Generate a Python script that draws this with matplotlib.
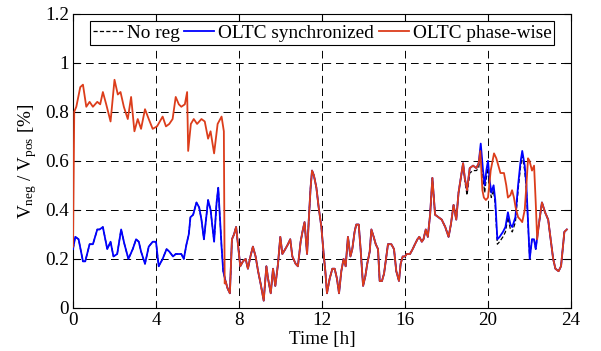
import matplotlib
matplotlib.use("Agg")
import matplotlib.pyplot as plt
import numpy as np

# ---------------- data ----------------
# Morning segments (series differ)
blue_morning_t = [0.0, 0.11, 0.27, 0.48, 0.59, 0.8, 0.96, 1.17, 1.28, 1.44, 1.65, 1.81, 1.95, 2.13, 2.32,
                  2.48, 2.67, 2.88, 3.04, 3.17, 3.28, 3.47, 3.65, 3.84, 4.0, 4.13, 4.32, 4.51, 4.64, 4.82,
                  4.95, 5.1, 5.22, 5.34, 5.47, 5.58, 5.66, 5.79, 5.95, 6.08, 6.19, 6.31, 6.51, 6.63, 6.8,
                  6.92, 7.0, 7.08, 7.16, 7.24]
blue_morning_v = [0.24, 0.29, 0.28, 0.19, 0.19, 0.26, 0.26, 0.32, 0.32, 0.33, 0.24, 0.27, 0.21, 0.22, 0.32,
                  0.26, 0.20, 0.24, 0.28, 0.27, 0.23, 0.18, 0.25, 0.27, 0.27, 0.17, 0.20, 0.24, 0.23, 0.21,
                  0.22, 0.22, 0.22, 0.20, 0.26, 0.30, 0.37, 0.38, 0.43, 0.41, 0.36, 0.28, 0.44, 0.40, 0.27,
                  0.43, 0.49, 0.37, 0.25, 0.15]

red_morning_t = [0.0, 0.06, 0.16, 0.35, 0.48, 0.64, 0.8, 0.96, 1.17, 1.31, 1.44, 1.6, 1.81, 2.0, 2.16,
                 2.29, 2.45, 2.64, 2.8, 2.96, 3.12, 3.28, 3.47, 3.65, 3.84, 4.05, 4.32, 4.48, 4.64, 4.8,
                 4.95, 5.1, 5.22, 5.39, 5.5, 5.55, 5.68, 5.82, 5.98, 6.19, 6.35, 6.51, 6.63, 6.8, 6.97,
                 7.16, 7.27, 7.31]
red_morning_v = [0.25, 0.80, 0.82, 0.90, 0.91, 0.82, 0.84, 0.82, 0.84, 0.83, 0.88, 0.83, 0.76, 0.93, 0.87,
                 0.88, 0.82, 0.77, 0.86, 0.72, 0.77, 0.73, 0.81, 0.77, 0.73, 0.74, 0.78, 0.74, 0.75, 0.77,
                 0.86, 0.83, 0.82, 0.83, 0.88, 0.64, 0.75, 0.77, 0.75, 0.77, 0.76, 0.69, 0.72, 0.63, 0.75,
                 0.78, 0.72, 0.10]

# Daytime segment shared by all three series
shared_t = [7.35, 7.45, 7.56, 7.66, 7.76, 7.86, 7.95, 8.06, 8.19, 8.32, 8.43, 8.55, 8.67, 8.8, 8.92,
            9.04, 9.19, 9.32, 9.4, 9.53, 9.64, 9.75, 9.88, 9.99, 10.09, 10.23, 10.36, 10.47, 10.57, 10.73,
            10.84, 10.97, 11.08, 11.16, 11.28, 11.37, 11.45, 11.52, 11.61, 11.73, 11.84, 11.97, 12.08, 12.16, 12.24,
            12.37, 12.5, 12.61, 12.72, 12.82, 12.93, 13.04, 13.14, 13.25, 13.37, 13.46, 13.57, 13.65, 13.77, 13.86,
            13.98, 14.09, 14.18, 14.3, 14.38, 14.49, 14.59, 14.7, 14.78, 14.89, 14.99, 15.1, 15.18, 15.34, 15.47,
            15.58, 15.71, 15.79, 15.89, 16.0, 16.08, 16.24, 16.37, 16.48, 16.6, 16.69, 16.81, 16.89, 17.0, 17.1,
            17.21, 17.32, 17.45, 17.61, 17.77, 17.94, 18.1, 18.21, 18.34, 18.47, 18.58, 18.69, 18.8]
shared_v = [0.11, 0.08, 0.06, 0.28, 0.30, 0.33, 0.26, 0.17, 0.19, 0.20, 0.16, 0.21, 0.25, 0.21, 0.15,
            0.10, 0.03, 0.17, 0.12, 0.06, 0.16, 0.09, 0.18, 0.29, 0.22, 0.24, 0.26, 0.28, 0.21, 0.18,
            0.17, 0.27, 0.32, 0.35, 0.22, 0.37, 0.49, 0.56, 0.54, 0.49, 0.41, 0.33, 0.22, 0.15, 0.06,
            0.12, 0.16, 0.16, 0.12, 0.06, 0.15, 0.20, 0.17, 0.29, 0.21, 0.24, 0.31, 0.34, 0.34, 0.24,
            0.09, 0.13, 0.18, 0.23, 0.32, 0.29, 0.26, 0.24, 0.11, 0.11, 0.14, 0.21, 0.26, 0.26, 0.24,
            0.15, 0.11, 0.18, 0.21, 0.21, 0.22, 0.22, 0.24, 0.26, 0.28, 0.29, 0.27, 0.28, 0.32, 0.29,
            0.38, 0.53, 0.38, 0.37, 0.36, 0.33, 0.29, 0.34, 0.42, 0.36, 0.47, 0.53, 0.59]

# Evening segments (series differ)
evening_t = [18.88, 18.99, 19.12, 19.28, 19.44, 19.55, 19.65, 19.76, 19.84, 19.92, 20.0, 20.08, 20.16,
             20.27, 20.35, 20.45, 20.56, 20.72, 20.84, 20.96, 21.08, 21.17, 21.32, 21.45, 21.56, 21.65,
             21.77, 21.85, 21.93, 22.01, 22.12, 22.22, 22.3]
blue_evening_v = [0.53, 0.48, 0.57, 0.58, 0.57, 0.59, 0.67, 0.56, 0.50, 0.56, 0.60, 0.52, 0.47,
                  0.50, 0.44, 0.28, 0.29, 0.31, 0.33, 0.39, 0.34, 0.33, 0.37, 0.50, 0.59, 0.64,
                  0.58, 0.50, 0.35, 0.20, 0.28, 0.28, 0.24]
noreg_evening_v = [0.52, 0.46, 0.55, 0.56, 0.56, 0.57, 0.65, 0.53, 0.47, 0.53, 0.57, 0.49, 0.45,
                   0.48, 0.42, 0.26, 0.27, 0.29, 0.31, 0.37, 0.32, 0.31, 0.35, 0.48, 0.57, 0.62,
                   0.56, 0.48, 0.34, 0.20, 0.28, 0.28, 0.24]
red_evening_t = [18.88, 18.99, 19.12, 19.28, 19.44, 19.55, 19.63, 19.68, 19.73, 19.8, 19.9, 20.0, 20.13,
                 20.29, 20.4, 20.5, 20.6, 20.77, 20.88, 20.96, 21.08, 21.16, 21.25, 21.33, 21.45, 21.56,
                 21.65, 21.77, 21.85, 21.93, 22.0, 22.12, 22.22, 22.3, 22.37]
red_evening_v = [0.53, 0.48, 0.57, 0.58, 0.57, 0.59, 0.64, 0.56, 0.48, 0.45, 0.44, 0.45, 0.56,
                 0.63, 0.61, 0.58, 0.55, 0.55, 0.50, 0.45, 0.46, 0.48, 0.45, 0.41, 0.37, 0.36,
                 0.35, 0.40, 0.50, 0.61, 0.60, 0.56, 0.58, 0.43, 0.28]

# Late-night segment shared by all three series
tail_t = [22.45, 22.6, 22.75, 22.9, 23.02, 23.14, 23.25, 23.4, 23.52, 23.6, 23.68, 23.8]
tail_v = [0.34, 0.43, 0.39, 0.36, 0.28, 0.20, 0.16, 0.15, 0.17, 0.24, 0.31, 0.32]

series_labels = ["No reg", "OLTC synchronized", "OLTC phase-wise"]
x_ticks = [0, 4, 8, 12, 16, 20, 24]
y_ticks = [0, 0.2, 0.4, 0.6, 0.8, 1.0, 1.2]
y_tick_labels = ["0", "0.2", "0.4", "0.6", "0.8", "1", "1.2"]

# ---------------- assemble series ----------------
t_noreg = blue_morning_t + shared_t + evening_t + tail_t
v_noreg = blue_morning_v + shared_v + noreg_evening_v + tail_v
t_blue = blue_morning_t + shared_t + evening_t + tail_t
v_blue = blue_morning_v + shared_v + blue_evening_v + tail_v
t_red = red_morning_t + shared_t + red_evening_t + tail_t
v_red = red_morning_v + shared_v + red_evening_v + tail_v

# ---------------- style ----------------
plt.rcParams["font.family"] = ["Liberation Serif", "DejaVu Serif"]
plt.rcParams["mathtext.fontset"] = "custom"
plt.rcParams["mathtext.rm"] = "Liberation Serif"
plt.rcParams["mathtext.it"] = "Liberation Serif:italic"
plt.rcParams["lines.scale_dashes"] = False

FS = 13.8
LFS = 13.9
fig = plt.figure(figsize=(6.01, 3.51), dpi=100)
ax = fig.add_axes([73 / 601, 43 / 351, 498 / 601, 294.5 / 351])

red_c = "#dc3d1b"
blue_c = "#0000ff"

ax.plot(t_noreg, v_noreg, color="black", lw=0.9, dashes=(3.0, 1.6), label=series_labels[0], zorder=3)
ax.plot(t_blue, v_blue, color=blue_c, lw=1.3, label=series_labels[1], zorder=4)
ax.plot(t_red, v_red, color=red_c, lw=1.3, label=series_labels[2], zorder=5)

ax.set_xlim(0, 24)
ax.set_ylim(0, 1.2)
ax.set_xticks(x_ticks)
ax.set_xticklabels([str(v) for v in x_ticks])
ax.set_yticks(y_ticks)
ax.set_yticklabels(y_tick_labels)
ax.tick_params(direction="in", top=True, right=True, length=5, width=0.8,
               labelsize=FS, pad=3, colors="black")
for s in ax.spines.values():
    s.set_linewidth(0.8)
    s.set_color("black")

ax.grid(True, color="black", lw=0.7, dashes=(5.5, 3.5))
ax.set_axisbelow(True)

ax.set_xlabel("Time [h]", fontsize=FS, labelpad=1)
ax.set_ylabel(r"V$_{\mathrm{neg}}$ / V$_{\mathrm{pos}}$ [%]", fontsize=FS, labelpad=4)

leg = ax.legend(loc="upper center", ncol=3, fontsize=LFS, frameon=True, fancybox=False,
                edgecolor="black", framealpha=1, borderpad=0.15, handlelength=1.55,
                handletextpad=0.2, columnspacing=0.25, borderaxespad=0.4)
leg.get_frame().set_linewidth(0.8)

fig.savefig("out.png", dpi=100)
